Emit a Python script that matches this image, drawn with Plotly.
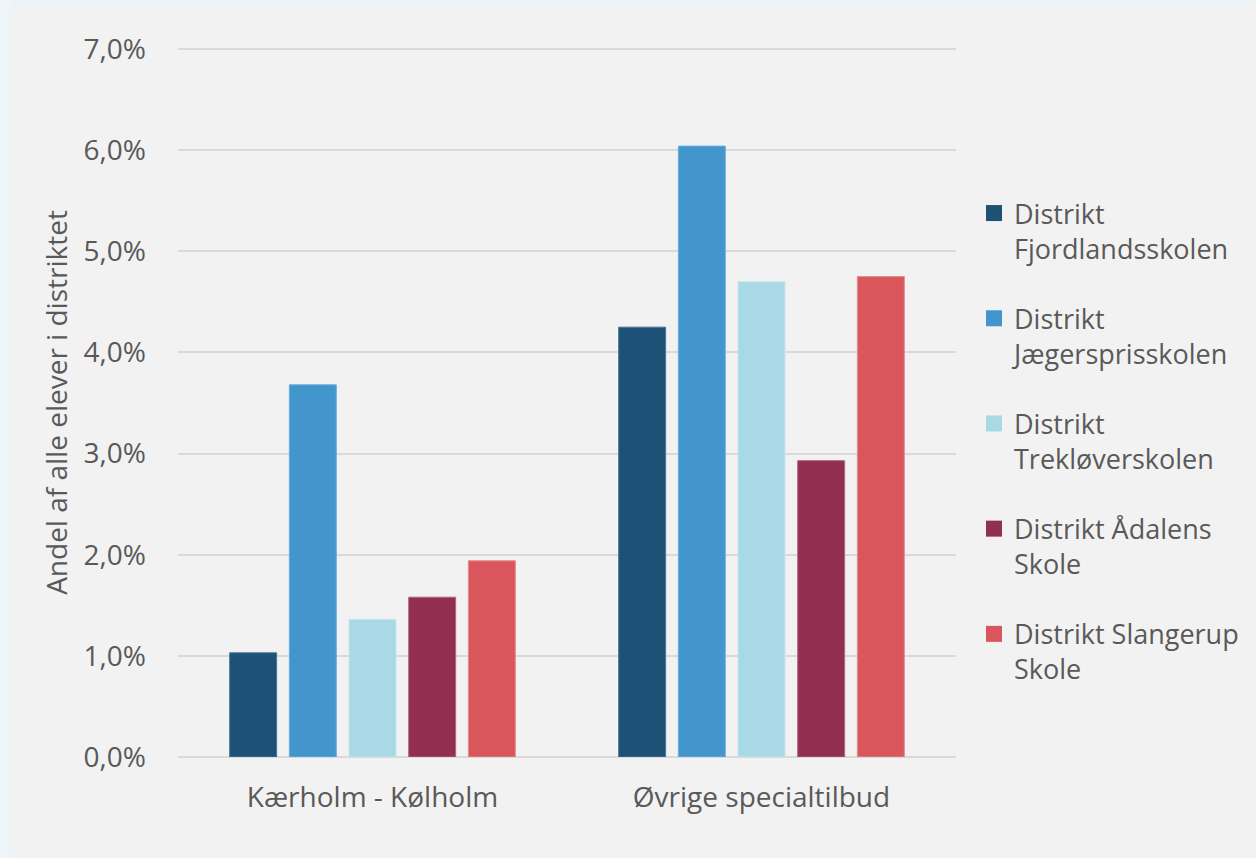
import plotly.graph_objects as go

categories = ["Kærholm - Kølholm", "Øvrige specialtilbud"]
series_names = [
    "Distrikt<br>Fjordlandsskolen",
    "Distrikt<br>Jægersprisskolen",
    "Distrikt<br>Trekløverskolen",
    "Distrikt Ådalens<br>Skole",
    "Distrikt Slangerup<br>Skole",
]
fjordland = [1.03, 4.25]
jaegerspris = [3.68, 6.04]
treklover = [1.36, 4.70]
adalens = [1.58, 2.93]
slangerup = [1.94, 4.75]
series_values = [fjordland, jaegerspris, treklover, adalens, slangerup]
colors = ["#1d5276", "#4396cc", "#a9d9e4", "#922f50", "#d9575c"]
edge_colors = ["#4a7595", "#6aade0", "#c6e6ee", "#b06680", "#e88a8e"]
y_tickvals = [0, 1, 2, 3, 4, 5, 6, 7]
y_ticktext = ["0,0%", "1,0%", "2,0%", "3,0%", "4,0%", "5,0%", "6,0%", "7,0%"]

FONT = "Open Sans, Noto Sans, sans-serif"
TXT = "#595959"
FS = 28
LFS = 27

fig = go.Figure()
for i, (name, vals) in enumerate(zip(series_names, series_values)):
    fig.add_trace(go.Bar(
        x=categories, y=vals, name=name, showlegend=False,
        marker=dict(color=colors[i], line=dict(color=edge_colors[i], width=1)),
        legendgroup=f"g{i}",
    ))
# legend entries (larger square symbols)
for i, name in enumerate(series_names):
    fig.add_trace(go.Scatter(
        x=[None], y=[None], mode="markers", name=name,
        marker=dict(symbol="square", size=16, color=colors[i], line=dict(width=0)),
        legendgroup=f"g{i}", showlegend=True,
    ))

W, H = 1256, 858
L, R, T, B = 178, 300, 48, 101
pw, ph = W - L - R, H - T - B


def px_x(x):
    return (x - L) / pw


def px_y(y):
    return 1 - (y - T) / ph


shapes = [
    dict(type="rect", xref="paper", yref="paper", layer="below",
         x0=px_x(0), x1=px_x(W), y0=px_y(0), y1=px_y(5),
         fillcolor="#eaf3f7", line=dict(width=0)),
    dict(type="rect", xref="paper", yref="paper", layer="below",
         x0=px_x(0), x1=px_x(12), y0=px_y(0), y1=px_y(H),
         fillcolor="#eef5f9", line=dict(width=0)),
]

fig.update_layout(
    width=W, height=H,
    margin=dict(l=L, r=R, t=T, b=B, pad=0),
    paper_bgcolor="#f2f2f2",
    plot_bgcolor="#f2f2f2",
    barmode="group",
    bargap=0.233,
    bargroupgap=0.213,
    font=dict(family=FONT, color=TXT, size=FS),
    shapes=shapes,
    showlegend=True,
    legend=dict(
        x=px_x(974), y=px_y(189), xanchor="left", yanchor="top",
        font=dict(family=FONT, color=TXT, size=LFS),
        bgcolor="rgba(0,0,0,0)",
        tracegroupgap=32,
        valign="top",
        itemwidth=30,
    ),
    xaxis=dict(
        showgrid=False, showline=False, ticks="",
        tickfont=dict(size=FS, color=TXT),
        ticklabelstandoff=21,
    ),
    yaxis=dict(
        range=[0, 7.01], tickvals=y_tickvals, ticktext=y_ticktext,
        showgrid=True, gridcolor="#d9d9d9", gridwidth=1.5,
        zeroline=True, zerolinecolor="#d9d9d9", zerolinewidth=1.5,
        showline=False, ticks="",
        tickfont=dict(size=FS, color=TXT),
        ticklabelstandoff=31,
        title=dict(text="Andel af alle elever i distriktet",
                   font=dict(size=FS, color=TXT), standoff=7),
    ),
)

fig.write_html("out.html",
               config={"displayModeBar": False},
               post_script="document.body.style.margin='0';document.body.style.overflow='hidden';")
